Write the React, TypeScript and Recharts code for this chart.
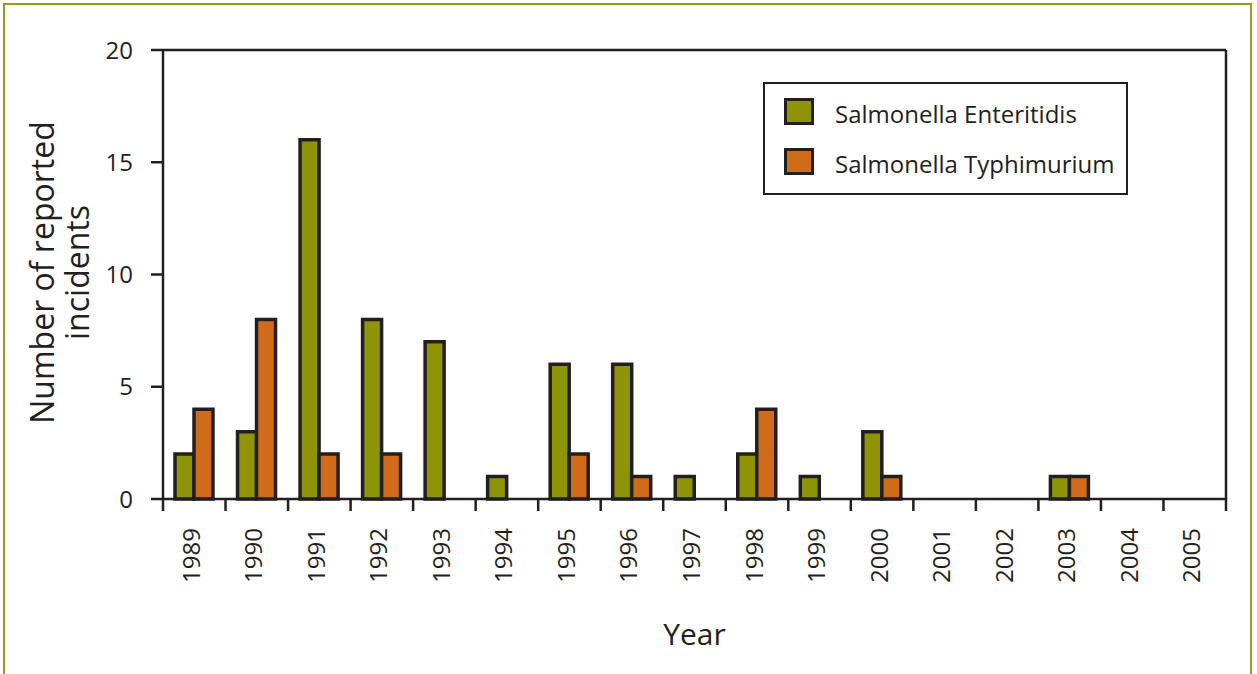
import {
  BarChart,
  Bar,
  XAxis,
  YAxis,
  ReferenceLine,
  Legend,
} from 'recharts';

const years = [
  '1989', '1990', '1991', '1992', '1993', '1994', '1995', '1996', '1997',
  '1998', '1999', '2000', '2001', '2002', '2003', '2004', '2005',
];
const enteritidis = [2, 3, 16, 8, 7, 1, 6, 6, 1, 2, 1, 3, 0, 0, 1, 0, 0];
const typhimurium = [4, 8, 2, 2, 0, 0, 2, 1, 0, 4, 0, 1, 0, 0, 1, 0, 0];
const yTicks = [0, 5, 10, 15, 20];

const data = years.map((year, i) => ({
  year,
  enteritidis: enteritidis[i],
  typhimurium: typhimurium[i],
}));

const W = 1257;
const H = 674;
const PLOT_LEFT = 163;
const PLOT_RIGHT = 1226;
const PLOT_TOP = 50;
const PLOT_BOTTOM = 499;
const BAND = (PLOT_RIGHT - PLOT_LEFT) / years.length;

const INK = '#231f20';
const GREEN = '#8f9406';
const ORANGE = '#d06b1a';
const FRAME = '#9a9a1c';
const FONT = '"Open Sans", "Noto Sans", sans-serif';

function YearTick(props: any) {
  const { x, y, payload, index } = props;
  const half = BAND / 2;
  const ty = y + 29;
  return (
    <g>
      <line x1={x - half} x2={x - half} y1={y} y2={y + 12} stroke={INK} strokeWidth={2.5} />
      {index === years.length - 1 && (
        <line x1={x + half} x2={x + half} y1={y - 1} y2={y + 12} stroke={INK} strokeWidth={2.5} />
      )}
      <text
        x={x - 4}
        y={ty}
        transform={`rotate(-90, ${x - 4}, ${ty})`}
        textAnchor="end"
        dominantBaseline="central"
        fontSize={24}
        fontFamily={FONT}
        fill={INK}
      >
        {payload.value}
      </text>
    </g>
  );
}

function YTitle(props: any) {
  const { viewBox } = props;
  const cy = viewBox.y + viewBox.height / 2 - 2;
  const tx = 54;
  return (
    <text
      transform={`translate(${tx}, ${cy}) rotate(-90)`}
      textAnchor="middle"
      fontSize={32}
      fontFamily={FONT}
      fill={INK}
    >
      <tspan x={0} y={0}>Number of reported</tspan>
      <tspan x={0} y={35}>incidents</tspan>
    </text>
  );
}

function XTitle(props: any) {
  const { viewBox } = props;
  return (
    <text
      x={viewBox.x + viewBox.width / 2}
      y={645}
      textAnchor="middle"
      fontSize={30}
      fontFamily={FONT}
      fill={INK}
    >
      Year
    </text>
  );
}

function LegendBox() {
  const items = [
    { label: 'Salmonella Enteritidis', color: GREEN, top: 14 },
    { label: 'Salmonella Typhimurium', color: ORANGE, top: 64 },
  ];
  return (
    <div
      style={{
        position: 'relative',
        width: 365,
        height: 113,
        boxSizing: 'border-box',
        border: `2px solid ${INK}`,
        background: '#fff',
        fontFamily: FONT,
      }}
    >
      {items.map((it) => (
        <div key={it.label}>
          <div
            style={{
              position: 'absolute',
              left: 19,
              top: it.top,
              width: 30,
              height: 27,
              boxSizing: 'border-box',
              border: `3px solid ${INK}`,
              background: it.color,
            }}
          />
          <div
            style={{
              position: 'absolute',
              left: 70,
              top: it.top,
              fontSize: 24,
              lineHeight: '32px',
              color: INK,
              whiteSpace: 'nowrap',
            }}
          >
            {it.label}
          </div>
        </div>
      ))}
    </div>
  );
}

export default function App() {
  return (
    <div
      style={{
        position: 'absolute',
        left: 0,
        top: 0,
        width: W,
        height: H,
        overflow: 'hidden',
        background: '#fff',
      }}
    >
      <div
        style={{
          position: 'absolute',
          left: 3,
          top: 3,
          width: 1249,
          height: 720,
          border: `2.5px solid ${FRAME}`,
          boxSizing: 'border-box',
        }}
      />
      <div style={{ position: 'absolute', left: 0, top: 0 }}>
        <BarChart
          width={W}
          height={H}
          data={data}
          margin={{ top: PLOT_TOP, right: W - PLOT_RIGHT - 1, left: PLOT_LEFT - 60, bottom: 0 }}
          barGap={0}
          barSize={19}
        >
          <XAxis
            dataKey="year"
            height={H - PLOT_BOTTOM}
            interval={0}
            tickLine={false}
            tickSize={0}
            tickMargin={0}
            axisLine={{ stroke: INK, strokeWidth: 2.5 }}
            tick={<YearTick />}
            label={{ content: (p: any) => <XTitle {...p} /> }}
          />
          <YAxis
            yAxisId="left"
            width={60}
            domain={[0, 20]}
            ticks={yTicks}
            tickSize={12}
            tickMargin={18}
            tickLine={{ stroke: INK, strokeWidth: 2.5 }}
            axisLine={{ stroke: INK, strokeWidth: 2.5 }}
            tick={{ fill: INK, fontSize: 24, fontFamily: FONT }}
            label={{ content: (p: any) => <YTitle {...p} /> }}
          />
          <YAxis
            yAxisId="right"
            orientation="right"
            width={1}
            domain={[0, 20]}
            tick={false}
            tickLine={false}
            axisLine={{ stroke: INK, strokeWidth: 2.5 }}
          />
          <ReferenceLine yAxisId="left" y={20} stroke={INK} strokeWidth={2.5} />
          <Legend
            layout="vertical"
            align="center"
            verticalAlign="middle"
            content={() => <LegendBox />}
            wrapperStyle={{ left: 763, top: 82, width: 365, height: 113 }}
          />
          <Bar
            yAxisId="left"
            dataKey="enteritidis"
            name="Salmonella Enteritidis"
            fill={GREEN}
            stroke={INK}
            strokeWidth={3.5}
            isAnimationActive={false}
          />
          <Bar
            yAxisId="left"
            dataKey="typhimurium"
            name="Salmonella Typhimurium"
            fill={ORANGE}
            stroke={INK}
            strokeWidth={3.5}
            isAnimationActive={false}
          />
        </BarChart>
      </div>
    </div>
  );
}
